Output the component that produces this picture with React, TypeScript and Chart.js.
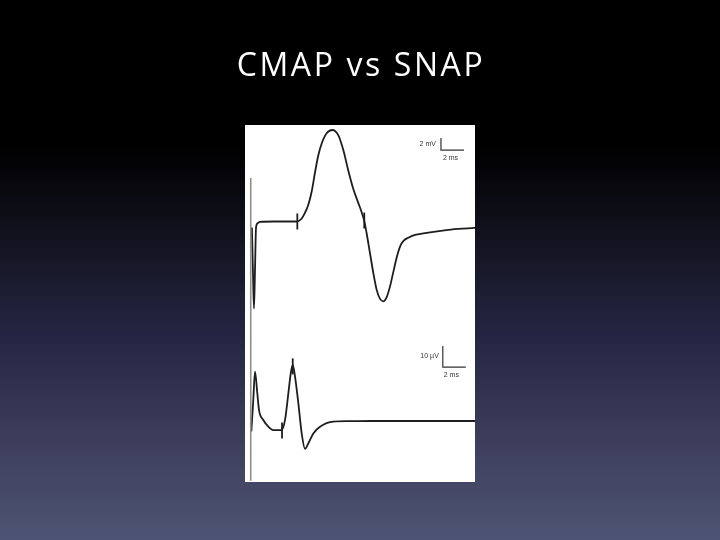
import React, { useEffect, useRef } from "react";
import { Chart, registerables } from "chart.js";

Chart.register(...registerables);

// ---- Data (time in ms, CMAP in mV, SNAP in µV) ----
const cmapTime = [0.6, 0.7, 0.78, 0.87, 0.96, 1.1, 1.3, 2.5, 4.0, 4.55, 4.93, 5.2, 5.5, 5.8, 6.09, 6.37, 6.67, 7.1, 7.59, 8.11, 8.55, 8.98, 9.42, 9.85, 10.1, 10.37, 10.58, 10.87, 11.16, 11.45, 11.74, 12.03, 12.32, 12.6, 12.9, 13.19, 13.5, 13.8, 14.2, 14.78, 15.94, 17.68, 19.7, 20];
const cmapValues = [-1, -9, -14.5, -8, -1, -0.3, -0.05, 0, 0, 0, 0.5, 1.4, 2.75, 5, 8.2, 11, 13, 14.7, 15.25, 14.4, 11.9, 8.5, 5.4, 3.1, 1.8, 0.1, -2, -5.3, -8.6, -11.4, -12.9, -13.3, -12.6, -10.9, -8.4, -6.0, -4.1, -3.2, -2.7, -2.25, -1.85, -1.4, -1.1, -1.05];

const snapTime = [0.55, 0.72, 0.87, 1.07, 1.22, 1.59, 2.03, 2.46, 3.19, 3.48, 3.77, 3.98, 4.15, 4.35, 4.64, 4.93, 5.22, 5.51, 5.94, 6.52, 7.68, 9.0, 11.0, 20];
const snapValues = [-5, 10, 23.5, 13.2, 5.2, 0.5, -2.7, -4.3, -4.3, 0.5, 13.2, 22.7, 26.7, 21.1, 8.4, -5.9, -13.3, -10.6, -5.9, -2.7, -0.3, -0.1, 0, 0];

// latency markers
const cmapMarkerTime = [4.55, 10.37];
const cmapMarkerValues = [0, 0.15];
const snapMarkerTime = [3.22, 4.15];
const snapMarkerValues = [-4.5, 26];

// stimulus artefact line (in mV of the CMAP axis)
const stimTime = [0.5, 0.5];
const stimValues = [7.25, -43.2];

// calibration bars
const cmapBarTime = [17.04, 17.04, 19.04];
const cmapBarValues = [13.9, 11.9, 11.9]; // 2 mV, 2 ms
const snapBarTime = [17.2, 17.2, 19.2];
const snapBarValues = [35.7, 25.7, 25.7]; // 10 µV, 2 ms
const cmapBarLabels = ["2 mV", "2 ms"];
const snapBarLabels = ["10 µV", "2 ms"];

const titleText = "CMAP vs SNAP";

const zip = (xs: number[], ys: number[]) => xs.map((x, i) => ({ x, y: ys[i] }));

const bgPlugin = {
  id: "slideBg",
  beforeDraw(chart: any) {
    const { ctx, width, height, chartArea } = chart;
    ctx.save();
    const g = ctx.createLinearGradient(0, 0, 0, height);
    g.addColorStop(0, "#000000");
    g.addColorStop(0.27, "#000000");
    g.addColorStop(0.5, "#19192b");
    g.addColorStop(0.63, "#262645");
    g.addColorStop(0.8, "#3b3c5a");
    g.addColorStop(1, "#4e5473");
    ctx.fillStyle = g;
    ctx.fillRect(0, 0, width, height);
    ctx.fillStyle = "#ffffff";
    ctx.fillRect(chartArea.left, chartArea.top, chartArea.right - chartArea.left, chartArea.bottom - chartArea.top);
    // slide title
    ctx.fillStyle = "#ffffff";
    ctx.font = "32px 'Open Sans', sans-serif";
    ctx.textAlign = "center";
    ctx.textBaseline = "alphabetic";
    try { (ctx as any).letterSpacing = "2.6px"; } catch (e) {}
    ctx.fillText(titleText, width / 2 + 1, 76);
    try { (ctx as any).letterSpacing = "0px"; } catch (e) {}
    ctx.restore();
  },
};

const barLabelPlugin = {
  id: "barLabels",
  afterDatasetsDraw(chart: any) {
    const { ctx, scales } = chart;
    const x = scales.x;
    ctx.save();
    ctx.fillStyle = "#333333";
    ctx.font = "7px 'Liberation Sans', Arial, sans-serif";
    ctx.textBaseline = "middle";
    // CMAP
    const yc = scales.yCmap;
    ctx.textAlign = "right";
    ctx.fillText(cmapBarLabels[0], x.getPixelForValue(cmapBarTime[0]) - 5, yc.getPixelForValue((cmapBarValues[0] + cmapBarValues[1]) / 2));
    ctx.textAlign = "center";
    ctx.fillText(cmapBarLabels[1], x.getPixelForValue((cmapBarTime[1] + cmapBarTime[2]) / 2) - 2, yc.getPixelForValue(cmapBarValues[2]) + 8);
    // SNAP
    const ys = scales.ySnap;
    ctx.textAlign = "right";
    ctx.fillText(snapBarLabels[0], x.getPixelForValue(snapBarTime[0]) - 4, ys.getPixelForValue((snapBarValues[0] + snapBarValues[1]) / 2));
    ctx.textAlign = "center";
    ctx.fillText(snapBarLabels[1], x.getPixelForValue((snapBarTime[1] + snapBarTime[2]) / 2) - 3, ys.getPixelForValue(snapBarValues[2]) + 8);
    ctx.restore();
  },
};

export default function App() {
  const ref = useRef<HTMLCanvasElement | null>(null);
  useEffect(() => {
    if (!ref.current) return;
    const trace = "#1e1e1e";
    const chart = new Chart(ref.current, {
      type: "line",
      data: {
        datasets: [
          {
            label: "stim",
            data: zip(stimTime, stimValues),
            yAxisID: "yCmap",
            borderColor: "#8f8f8f",
            borderWidth: 1.6,
            pointRadius: 0,
          },
          {
            label: "CMAP",
            data: zip(cmapTime, cmapValues),
            yAxisID: "yCmap",
            borderColor: trace,
            borderWidth: 1.8,
            pointRadius: 0,
            cubicInterpolationMode: "monotone",
          },
          {
            label: "SNAP",
            data: zip(snapTime, snapValues),
            yAxisID: "ySnap",
            borderColor: trace,
            borderWidth: 1.8,
            pointRadius: 0,
            cubicInterpolationMode: "monotone",
          },
          {
            label: "CMAP markers",
            data: zip(cmapMarkerTime, cmapMarkerValues),
            yAxisID: "yCmap",
            showLine: false,
            pointStyle: "line",
            rotation: 90,
            pointRadius: 8,
            borderColor: trace,
            pointBorderWidth: 1.8,
          },
          {
            label: "SNAP markers",
            data: zip(snapMarkerTime, snapMarkerValues),
            yAxisID: "ySnap",
            showLine: false,
            pointStyle: "line",
            rotation: 90,
            pointRadius: 8,
            borderColor: trace,
            pointBorderWidth: 1.8,
          },
          {
            label: "CMAP bar",
            data: zip(cmapBarTime, cmapBarValues),
            yAxisID: "yCmap",
            borderColor: "#333333",
            borderWidth: 1.2,
            pointRadius: 0,
          },
          {
            label: "SNAP bar",
            data: zip(snapBarTime, snapBarValues),
            yAxisID: "ySnap",
            borderColor: "#333333",
            borderWidth: 1.2,
            pointRadius: 0,
          },
        ],
      },
      options: {
        responsive: false,
        animation: false,
        layout: { padding: { left: 245, right: 245, top: 125, bottom: 58 } },
        scales: {
          x: { type: "linear", min: 0, max: 20, display: false },
          yCmap: { type: "linear", min: -43.42, max: 16.08, display: false },
          ySnap: { type: "linear", min: -29.05, max: 140.95, display: false },
        },
        plugins: {
          legend: { display: false },
          tooltip: { enabled: false },
          title: { display: false },
        },
      },
      plugins: [bgPlugin, barLabelPlugin],
    });
    return () => chart.destroy();
  }, []);
  return (
    <div style={{ position: "fixed", left: 0, top: 0, width: 720, height: 540 }}>
      <canvas ref={ref} width={720} height={540} />
    </div>
  );
}
